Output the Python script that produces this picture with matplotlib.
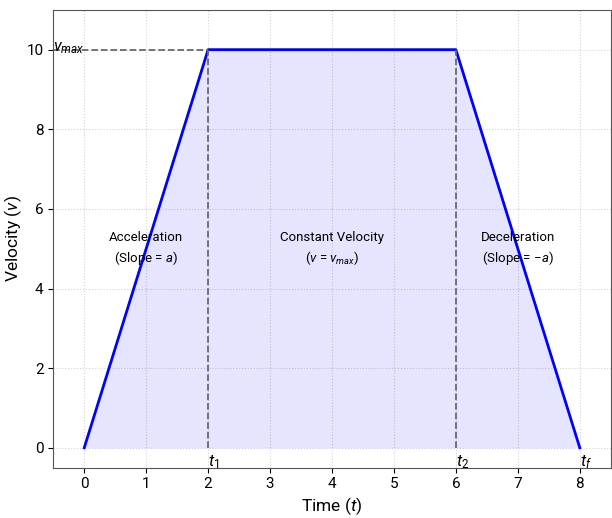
import matplotlib
matplotlib.use("Agg")
import matplotlib.pyplot as plt

t_points = [0, 2, 6, 8]
v_points = [0, 10, 10, 0]
v_max = 10
t1, t2, tf = 2, 6, 8
x_ticks = [0, 1, 2, 3, 4, 5, 6, 7, 8]
y_ticks = [0, 2, 4, 6, 8, 10]

fam = 'Roboto'
plt.rcParams['font.family'] = [fam, 'DejaVu Sans']
plt.rcParams['mathtext.fontset'] = 'custom'
plt.rcParams['mathtext.rm'] = fam
plt.rcParams['mathtext.it'] = fam + ':italic'
plt.rcParams['mathtext.bf'] = fam + ':bold'

fig = plt.figure(figsize=(6.12, 5.18), dpi=100)
ax = fig.add_axes([0.087, 0.097, 0.911, 0.884])

ax.fill_between(t_points, v_points, color='blue', alpha=0.1, linewidth=0)
ax.plot(t_points, v_points, color='blue', linewidth=2)

ax.plot([-0.5, t1], [v_max, v_max], color='dimgray', linestyle='--', linewidth=1.3)
ax.plot([t1, t1], [0, v_max], color='dimgray', linestyle='--', linewidth=1.3)
ax.plot([t2, t2], [0, v_max], color='dimgray', linestyle='--', linewidth=1.3)

ax.text(1, 5, "Acceleration\n(Slope = $a$)", ha='center', va='center', fontsize=9.5, linespacing=1.35)
ax.text(4, 5, "Constant Velocity\n($v$ = $v_{max}$)", ha='center', va='center', fontsize=9.5, linespacing=1.35)
ax.text(7, 5, "Deceleration\n(Slope = $-a$)", ha='center', va='center', fontsize=9.5, linespacing=1.35)

ax.text(t1, -0.36, "$t_1$", ha='left', va='center', fontsize=12)
ax.text(t2, -0.36, "$t_2$", ha='left', va='center', fontsize=12)
ax.text(tf, -0.36, "$t_f$", ha='left', va='center', fontsize=12)
ax.text(-0.5, v_max + 0.05, "$v_{max}$", ha='left', va='center', fontsize=12)

ax.set_xlim(-0.5, 8.5)
ax.set_ylim(-0.5, 11)
ax.set_xticks(x_ticks)
ax.set_yticks(y_ticks)
ax.tick_params(labelsize=11)
ax.grid(True, linestyle=':', color='lightgray', linewidth=0.8)
ax.set_axisbelow(True)
ax.set_xlabel("Time ($t$)", fontsize=12.5, labelpad=3)
ax.set_ylabel("Velocity ($v$)", fontsize=12.5)
ax.yaxis.set_label_coords(-0.052, 0.5)
for s in ax.spines.values():
    s.set_color('#555555')

fig.savefig("out.png", dpi=100)
